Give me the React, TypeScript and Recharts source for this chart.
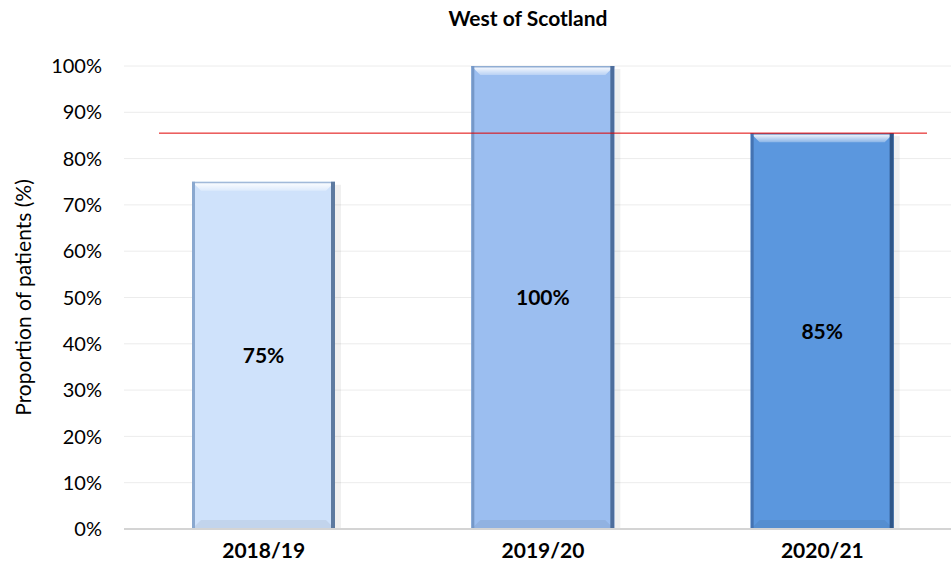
import React from "react";
import { BarChart, Bar, XAxis, YAxis, CartesianGrid, ReferenceLine, LabelList, Cell, Label } from "recharts";

const categories = ["2018/19", "2019/20", "2020/21"];
const proportions = [75, 100, 85.5];
const valueLabels = ["75%", "100%", "85%"];
const yTicks = [0, 10, 20, 30, 40, 50, 60, 70, 80, 90, 100];
const targetValue = 85.5;
const title = "West of Scotland";
const yAxisTitle = "Proportion of patients (%)";

const data = categories.map((c, i) => ({ category: c, value: proportions[i], label: valueLabels[i] }));

const fills = ["#cfe2fb", "#9bbef0", "#5b97de"];
const lefts = ["#8aa8cf", "#7598c8", "#4473b2"];
const rights = ["#5d7aa0", "#4d6d9c", "#2f5688"];
const FONT = "Lato, 'Open Sans', sans-serif";

const BevelBar = (props: any) => {
  const { x, y, width: w, height: h, index } = props;
  if (!h || h <= 0) return null;
  const b = 9;
  const f = fills[index];
  const gid = `topHl${index}`;
  return (
    <g>
      <defs>
        <linearGradient id={gid} x1="0" y1="0" x2="0" y2="1">
          <stop offset="0%" stopColor="#ffffff" stopOpacity={1} />
          <stop offset="100%" stopColor="#ffffff" stopOpacity={0.3} />
        </linearGradient>
      </defs>
      <rect x={x + w} y={y + 3} width={6} height={h - 3} fill="#000" opacity={0.06} />
      <rect x={x} y={y} width={w} height={h} fill={f} />
      <polygon
        points={`${x},${y} ${x + w},${y} ${x + w - b},${y + b} ${x + b},${y + b}`}
        fill={`url(#${gid})`}
      />
      <polygon
        points={`${x},${y + h} ${x + w},${y + h} ${x + w - b},${y + h - b} ${x + b},${y + h - b}`}
        fill="#000"
        opacity={0.06}
      />
      <rect x={x} y={y} width={w} height={1.5} fill={lefts[index]} opacity={0.8} />
      <rect x={x} y={y} width={3} height={h} fill={lefts[index]} />
      <rect x={x + w - 4} y={y} width={4} height={h} fill={rights[index]} />
    </g>
  );
};

const TargetLine = (props: any) => {
  const { x1, x2, y1, y2 } = props;
  const inset = 35;
  return <line x1={x1 + inset} x2={x2 - inset} y1={y1} y2={y2} stroke="#e00000" strokeWidth={1} />;
};

const YTitle = (props: any) => {
  const vb = props.viewBox || {};
  const cy = (vb.y ?? 0) + (vb.height ?? 0) / 2;
  return (
    <text x={22} y={cy} transform={`rotate(-90, 22, ${cy})`} textAnchor="middle" dominantBaseline="central"
      fontFamily={FONT} fontSize={21} fill="#000">
      {yAxisTitle}
    </text>
  );
};

export default function App() {
  return (
    <div style={{ position: "absolute", left: 0, top: 0, width: 951, height: 572, overflow: "hidden", background: "#fff" }}>
      <div style={{ position: "absolute", left: 0, top: 5, width: 1056, textAlign: "center", fontFamily: FONT, fontWeight: 700, fontSize: 21, color: "#000", lineHeight: "26px" }}>
        {title}
      </div>
      <BarChart width={962} height={572} data={data} margin={{ top: 66, right: 0, bottom: 13, left: 0 }} barSize={143}>
        <CartesianGrid vertical={false} stroke="#ececec" strokeWidth={1} />
        <XAxis
          dataKey="category"
          tickLine={false}
          axisLine={{ stroke: "#d4d4d4", strokeWidth: 2 }}
          tickMargin={8}
          tick={{ fontFamily: FONT, fontWeight: 700, fontSize: 21, fill: "#000" }}
        />
        <YAxis
          width={124}
          domain={[0, 100]}
          ticks={yTicks}
          tickFormatter={(v: number) => `${v}%`}
          tickLine={false}
          axisLine={false}
          tickMargin={16}
          tick={{ fontFamily: FONT, fontSize: 20, fill: "#000" }}
        >
          <Label content={<YTitle />} />
        </YAxis>
        <Bar dataKey="value" shape={<BevelBar />} isAnimationActive={false}>
          {data.map((d, i) => (
            <Cell key={d.category} fill={fills[i]} />
          ))}
          <LabelList dataKey="label" position="center" style={{ fontFamily: FONT, fontWeight: 700, fontSize: 21, fill: "#000" }} />
        </Bar>
        <ReferenceLine y={targetValue} shape={<TargetLine />} ifOverflow="extendDomain" />
      </BarChart>
    </div>
  );
}
